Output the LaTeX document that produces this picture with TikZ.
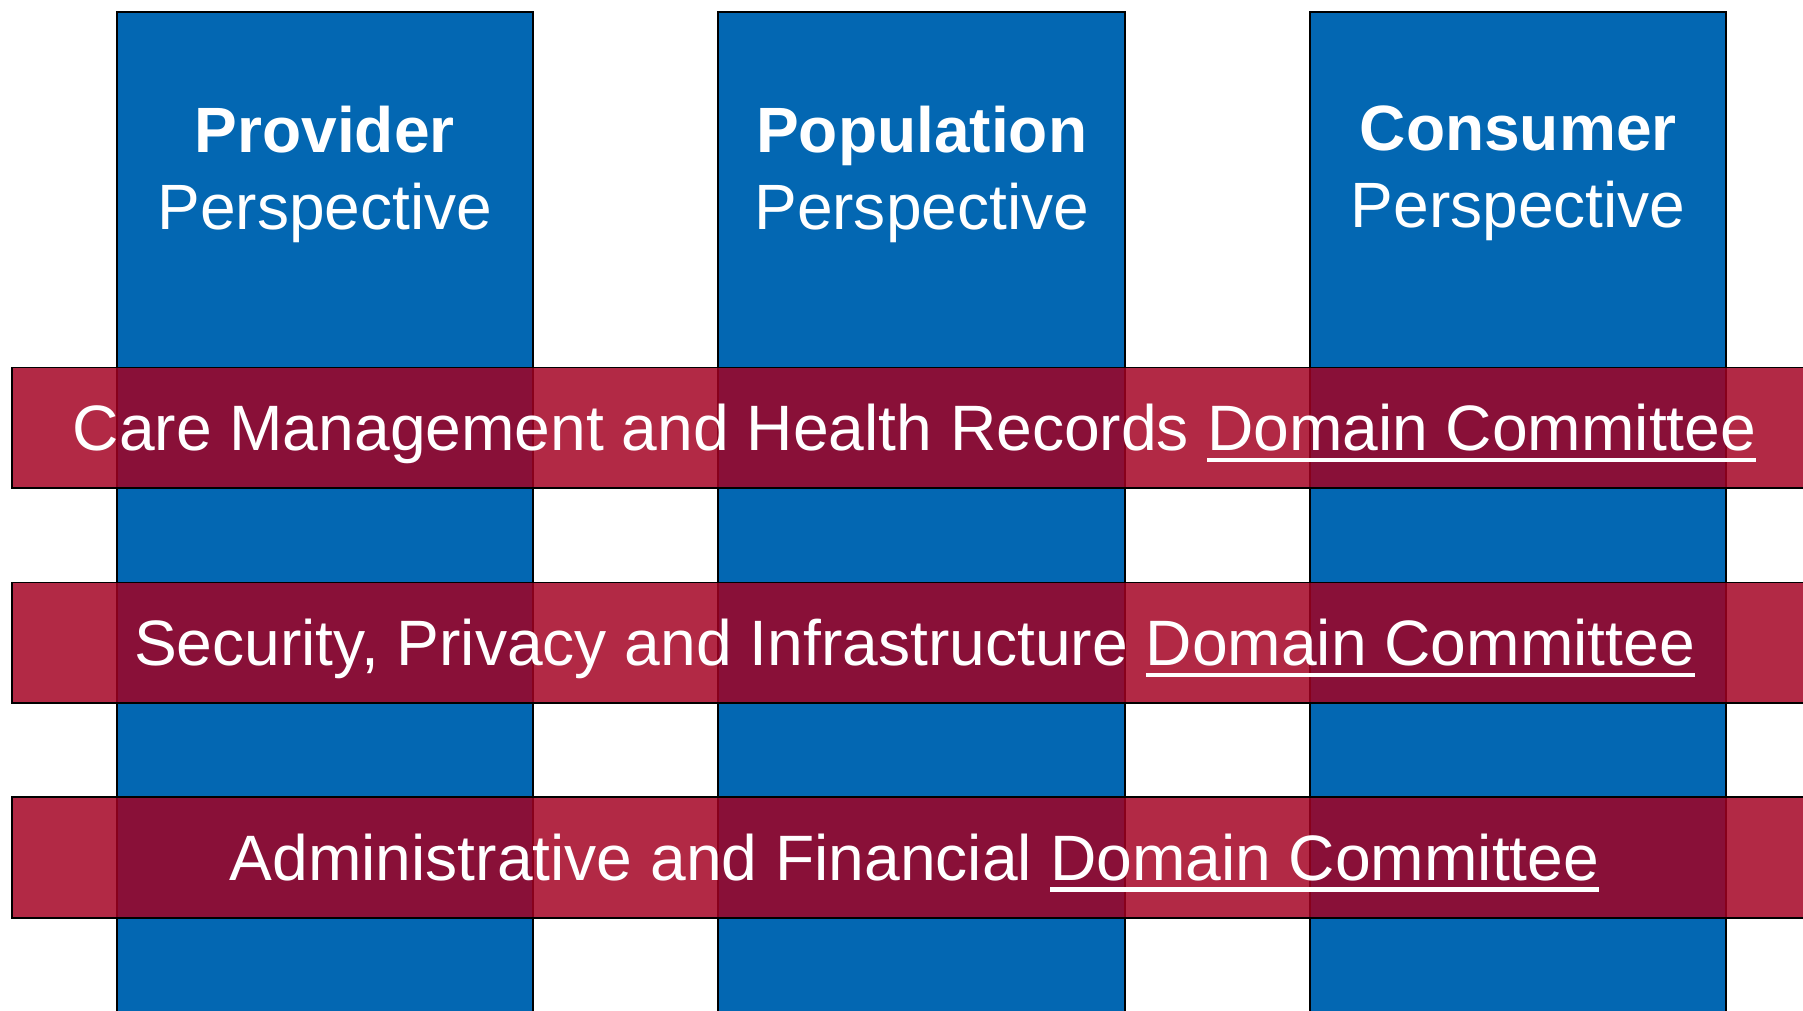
\documentclass[tikz,border=0pt]{standalone}
\usepackage{fontspec}
\setmainfont{Liberation Sans}
\usepackage{xcolor}
\usetikzlibrary{positioning}

\definecolor{colblue}{RGB}{3,103,178}
\definecolor{bandred}{RGB}{163,0,33}

\newsavebox{\domainbox}
\newcommand{\domainline}[1]{\sbox{\domainbox}{#1}\rlap{\rule[-0.097cm]{\wd\domainbox}{0.036cm}}\usebox{\domainbox}}

\tikzset{
	column/.style={draw=black, line width=0.45pt, fill=colblue, anchor=north, minimum height=10cm, inner sep=0pt},
	coltitle/.style={text=white, align=center, inner sep=0pt, font=\fontsize{15.85}{18.97}\selectfont},
	band/.style={draw=black, line width=0.45pt, fill=bandred, fill opacity=0.84, text opacity=1, text=white, minimum width=15.7cm, minimum height=1.05cm, text height=0.4cm, text depth=0cm, inner sep=0pt, font=\fontsize{15.88}{18.97}\selectfont}
}

\begin{document}
\begin{tikzpicture}
		%page size
		\useasboundingbox (0,0) rectangle (15.68,8.79);
		\clip (0,0) rectangle (15.68,8.79);
		
		%definition of column top and band centre
		\def\colTop{8.694};
		\def\bandX{7.953};
		
		%perspective columns
		\node [column, minimum width=3.62cm] (provider) at (2.824,\colTop) {};
		\node [column, minimum width=3.54cm] (population) at (8.015,\colTop) {};
		\node [column, minimum width=3.615cm] (consumer) at (13.203,\colTop) {};
		
		\node [coltitle, below=0.82cm of provider.north] (providerT) {\textbf{Provider}\\Perspective};
		\node [coltitle, below=0.82cm of population.north] (populationT) {\textbf{Population}\\Perspective};
		\node [coltitle, below=0.82cm of consumer.north] (consumerT) {\textbf{Consumer}\\Perspective};
		
		%domain committees, laid over the columns
		\node [band] (care) at (\bandX,5.069) {Care Management and Health Records \domainline{Domain Committee}};
		\node [band] (security) at (\bandX,3.199) {Security, Privacy and Infrastructure \domainline{Domain Committee}};
		\node [band] (admin) at (\bandX,1.333) {Administrative and Financial \domainline{Domain Committee}};
	\end{tikzpicture}
\end{document}
